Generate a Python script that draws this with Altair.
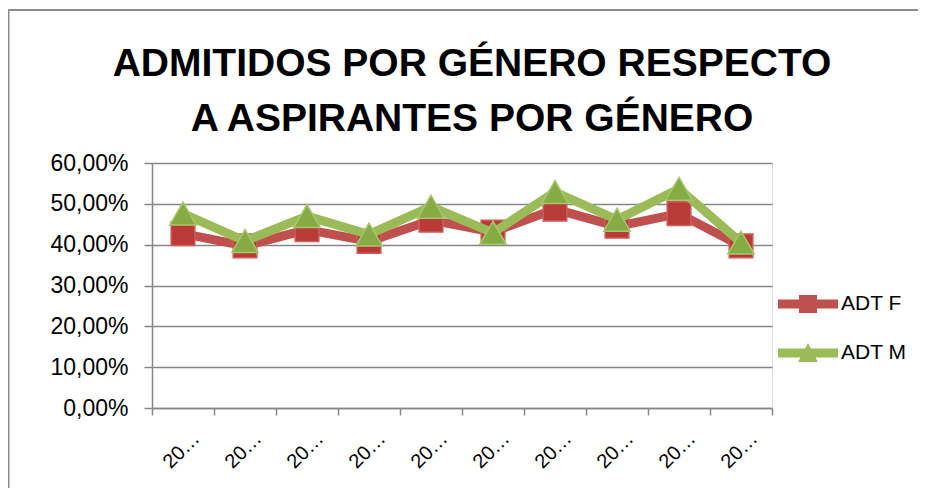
import altair as alt
import pandas as pd

periods = ["2008-1", "2008-2", "2009-1", "2009-2", "2010-1",
           "2010-2", "2011-1", "2011-2", "2012-1", "2012-2"]
adt_f = [0.427, 0.397, 0.437, 0.408, 0.460, 0.431, 0.487, 0.445, 0.476, 0.397]
adt_m = [0.476, 0.409, 0.470, 0.425, 0.493, 0.429, 0.529, 0.461, 0.537, 0.405]
series_names = ["ADT F", "ADT M"]
title_lines = ["ADMITIDOS POR GÉNERO RESPECTO", "A ASPIRANTES POR GÉNERO"]

rows = []
for p, f, m in zip(periods, adt_f, adt_m):
    rows.append({"periodo": p, "serie": series_names[0], "valor": f})
    rows.append({"periodo": p, "serie": series_names[1], "valor": m})
df = pd.DataFrame(rows)

FONT = "Liberation Sans"
RED = "#C0504D"
GREEN = "#9BBB59"

x_enc = alt.X("periodo:N", sort=periods, title=None,
              scale=alt.Scale(paddingInner=0, paddingOuter=0),
              axis=alt.Axis(labelAngle=-45, labelAlign="right", labelBaseline="middle",
                            labelLimit=46, labelOffset=13, labelPadding=20,
                            tickBand="extent", tickSize=7, grid=False,
                            domainColor="#868686", tickColor="#868686",
                            domainWidth=1.5, tickWidth=1.5,
                            labelFont=FONT, labelFontSize=20, labelColor="black"))
y_enc = alt.Y("valor:Q", title=None,
              scale=alt.Scale(domain=[0, 0.6], nice=False),
              axis=alt.Axis(values=[0, 0.1, 0.2, 0.3, 0.4, 0.5, 0.6],
                            labelExpr="replace(format(datum.value, '.2%'), '.', ',')",
                            tickSize=8, labelPadding=16,
                            grid=True, gridColor="#868686", gridWidth=1.5,
                            domainColor="#868686", tickColor="#868686",
                            domainWidth=1.5, tickWidth=1.5,
                            labelFont=FONT, labelFontSize=23, labelColor="black"))

sq_path = "M-1,-0.15H1V0.15H-1Z M-0.3,-0.3H0.3V0.3H-0.3Z"
tri_path = "M-1,-0.15H1V0.15H-1Z M0,-0.33L0.33,0.3L-0.33,0.3Z"

legend = alt.Legend(
    title=None, orient="none", legendX=626, legendY=111,
    symbolSize=3600, symbolOpacity=1, symbolStrokeWidth=0,
    labelFont=FONT, labelFontSize=21, labelColor="black",
    labelOffset=3, rowPadding=9, padding=0)

base = alt.Chart(df)

line_f = base.transform_filter(alt.datum.serie == "ADT F").mark_line(
    color=RED, strokeWidth=9, strokeJoin="round", strokeCap="round").encode(
    x=x_enc, y=y_enc)
line_m = base.transform_filter(alt.datum.serie == "ADT M").mark_line(
    color=GREEN, strokeWidth=9, strokeJoin="round", strokeCap="round").encode(
    x=x_enc, y=y_enc)

pts_f = base.transform_filter(alt.datum.serie == "ADT F").mark_point(
    shape="square", size=560, filled=True, fill="#B93A37", stroke="#CD5B58",
    strokeWidth=1.5, opacity=1).encode(x=x_enc, y=y_enc)
pts_m = base.transform_filter(alt.datum.serie == "ADT M").mark_point(
    shape="triangle-up", size=700, filled=True, fill="#86AB44", stroke="#A6C86A",
    strokeWidth=1.5, opacity=1).encode(x=x_enc, y=y_enc)

legend_layer = base.mark_point(size=0, filled=True, opacity=0).encode(
    x=x_enc, y=y_enc,
    color=alt.Color("serie:N", scale=alt.Scale(domain=series_names, range=[RED, GREEN]),
                    legend=legend),
    shape=alt.Shape("serie:N", scale=alt.Scale(domain=series_names, range=[sq_path, tri_path]),
                    legend=legend))

border = alt.Chart(pd.DataFrame({"k": [0]})).mark_rule(
    color="#8C8C8C", strokeWidth=2).encode(
    x=alt.value(-144), x2=alt.value(800), y=alt.value(-153))
border_left = alt.Chart(pd.DataFrame({"k": [0]})).mark_rule(
    color="#8C8C8C", strokeWidth=2).encode(
    x=alt.value(-143.5), y=alt.value(-153), y2=alt.value(360))

chart = alt.layer(line_f, pts_f, line_m, pts_m, legend_layer, border, border_left).properties(
    width=620, height=245,
    autosize=alt.AutoSizeParams(type="none"),
    padding={"left": 144, "top": 155, "right": 146, "bottom": 80},
    title=alt.Title(title_lines, font="Liberation Sans", fontSize=39,
                    fontWeight="bold", color="black", anchor="middle",
                    lineHeight=55, offset=14, dx=10, dy=144, frame="group"),
).configure_view(stroke=None).configure(background="white")

chart.save("out.html", embed_options={"renderer": "svg", "actions": False})
